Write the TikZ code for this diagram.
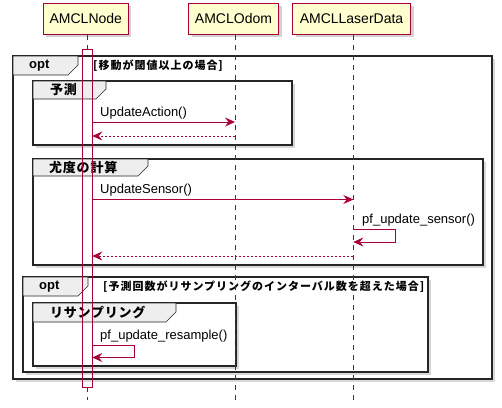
\documentclass[tikz,border=0pt]{standalone}
\usepackage{fontspec}
\setmainfont{Liberation Sans}
\newfontfamily\cjk[LetterSpace=6]{Noto Sans CJK JP}
\newfontfamily\cjkg[LetterSpace=9]{Noto Sans CJK JP}
\usetikzlibrary{arrows.meta,shadows,calc}
\definecolor{crim}{HTML}{A80036}
\definecolor{pyel}{HTML}{FEFECE}
\definecolor{tabg}{HTML}{EEEEEE}
\tikzset{
  part/.style={draw=crim, line width=0.9pt, fill=pyel, inner sep=0pt,
    minimum height=31pt, font=\fontsize{14}{16}\selectfont,
    drop shadow={shadow xshift=3pt, shadow yshift=-3pt, opacity=0.35}},
  lifel/.style={draw=crim, line width=0.7pt, dash pattern=on 5pt off 5pt},
  actbar/.style={draw=crim, line width=0.8pt},
  frm/.style={draw=black!85, line width=1.7pt, fill=white,
    drop shadow={shadow xshift=3pt, shadow yshift=-3pt, opacity=0.3}},
  tabshape/.style={draw=black!85, line width=0.6pt, fill=tabg},
  tablabel/.style={anchor=west, inner sep=0pt, font=\fontsize{13}{15}\selectfont\bfseries},
  cjklabel/.style={anchor=west, inner sep=0pt, font=\cjk\fontsize{13}{15}\selectfont\bfseries},
  guard/.style={anchor=west, inner sep=0pt, font=\cjkg\fontsize{11}{13}\selectfont\bfseries},
  msgtxt/.style={anchor=south west, inner sep=0pt, font=\fontsize{13}{15}\selectfont},
  msg/.style={draw=crim, line width=0.8pt, -{Stealth[length=10pt,width=9pt,inset=3.5pt]}},
  ret/.style={msg, dash pattern=on 2pt off 2pt},
}
\begin{document}
\begin{tikzpicture}[x=1pt,y=-1pt]
\useasboundingbox (0,0) rectangle (502,407);
% participants
\node[part, minimum width=85pt] (pn) at (85.8,18.5) {AMCLNode};
\node[part, minimum width=90pt] (po) at (233.5,18.5) {AMCLOdom};
\node[part, minimum width=118pt] (pl) at (351.5,18.5) {AMCLLaserData};
% frames
\draw[frm] (13,56) rectangle (492,379);
\draw[tabshape] (13,56) -- (78,56) -- (78,65) -- (68,75) -- (13,75) -- cycle;
\node[tablabel] (f1l) at (29,65.5) {opt};
\node[guard] (f1g) at (93,65.5) {[移動が閾値以上の場合]};

\draw[frm] (33,81) rectangle (292,145);
\draw[tabshape] (33,81) -- (106,81) -- (106,89) -- (96,99) -- (33,99) -- cycle;
\node[cjklabel] (f2l) at (50,90) {予測};

\draw[frm] (33,159) rectangle (483,265);
\draw[tabshape] (33,159) -- (148,159) -- (148,166) -- (138,176) -- (33,176) -- cycle;
\node[cjklabel] (f3l) at (49,167.5) {尤度の計算};

\draw[frm] (23,277) rectangle (428,372);
\draw[tabshape] (23,277) -- (88,277) -- (88,286) -- (78,296) -- (23,296) -- cycle;
\node[tablabel] (f4l) at (39,286.5) {opt};
\node[guard] (f4g) at (103,286.5) {[予測回数がリサンプリングのインターバル数を超えた場合]};

\draw[frm] (33,303) rectangle (236,366);
\draw[tabshape] (33,303) -- (176,303) -- (176,312) -- (166,322) -- (33,322) -- cycle;
\node[cjklabel] (f5l) at (50,312.5) {リサンプリング};

% lifelines
\coordinate (ln) at (87.5,35);
\coordinate (lnm) at (87.5,49);
\coordinate (lnm2) at (87.5,387);
\coordinate (lnb) at (87.5,400);
\coordinate (lo) at (235,35);
\coordinate (lob) at (235,400);
\coordinate (ll) at (353.3,35);
\coordinate (llb) at (353.3,400);
\draw[lifel] (ln) -- (lnm);
\draw[lifel] (lnm2) -- (lnb);
\draw[lifel] (lo) -- (lob);
\draw[lifel] (ll) -- (llb);
% activation
\draw[actbar] (82.5,49) rectangle (92.3,387);

% messages
\coordinate (m1a) at (92.3,122);
\coordinate (m1b) at (235,122);
\draw[msg] (m1a) -- (m1b);
\node[msgtxt] (t1) at (100,119) {UpdateAction()};
\coordinate (r1a) at (235,136);
\coordinate (r1b) at (92.3,136);
\draw[ret] (r1a) -- (r1b);

\coordinate (m2a) at (92.3,199.5);
\coordinate (m2b) at (353.3,199.5);
\draw[msg] (m2a) -- (m2b);
\node[msgtxt] (t2) at (100,196.5) {UpdateSensor()};

\coordinate (s1a) at (353.3,229);
\coordinate (s1b) at (353.3,242);
\draw[msg] (s1a) -- (395,229) -- (395,242) -- (s1b);
\node[msgtxt] (t3) at (362,226.5) {pf\_update\_sensor()};

\coordinate (r2a) at (353.3,256);
\coordinate (r2b) at (92.3,256);
\draw[ret] (r2a) -- (r2b);

\coordinate (s2a) at (92.3,345);
\coordinate (s2b) at (92.3,357.5);
\draw[msg] (s2a) -- (134,345) -- (134,357.5) -- (s2b);
\node[msgtxt] (t4) at (100,342.5) {pf\_update\_resample()};
\end{tikzpicture}
\end{document}
